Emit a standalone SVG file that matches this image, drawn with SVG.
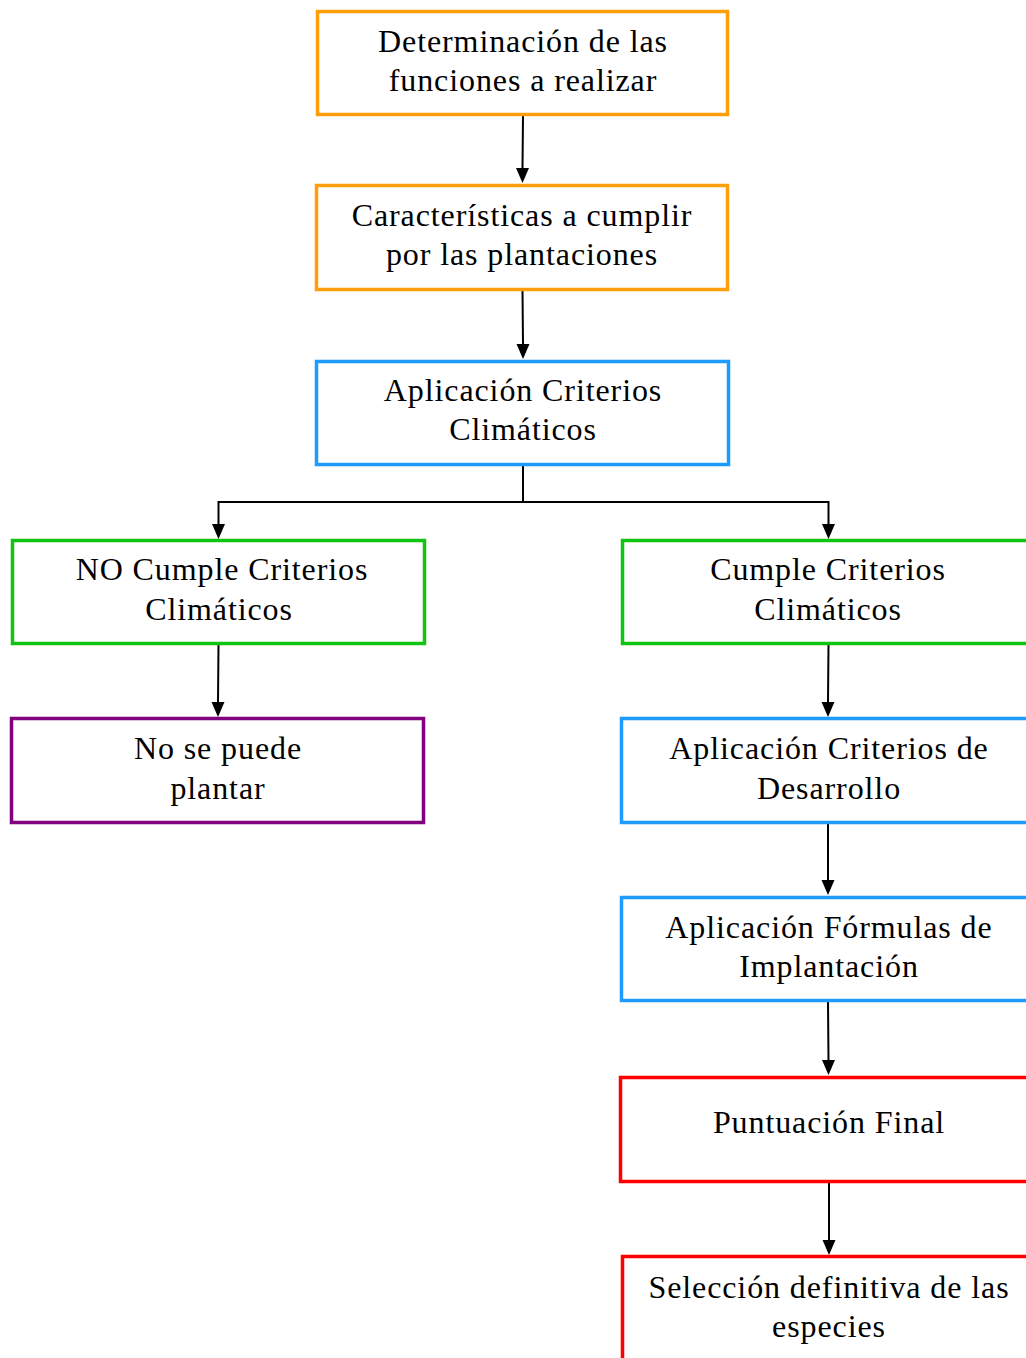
<svg xmlns="http://www.w3.org/2000/svg" width="1026" height="1358" viewBox="0 0 1026 1358">
<defs>
<style>
.box{fill:#fff;stroke-width:3.5}
.or{stroke:#FF9E0B}
.bl{stroke:#1E9BFF}
.gr{stroke:#11C411}
.pu{stroke:#800080}
.rd{stroke:#FF0000}
text{font-family:"Liberation Serif","DejaVu Serif",serif;font-size:32px;letter-spacing:0.9px;fill:#000;text-anchor:middle}
.c{fill:none;stroke:#000;stroke-width:2}
</style>
</defs>
<rect width="1026" height="1358" fill="#fff"/>
<g id="connectors">
<path class="c" d="M523,116 L522.5,168"/>
<path d="M516,168 L529,168 L522.5,183 Z"/>
<path class="c" d="M522.5,291 L523,344"/>
<path d="M516.5,344 L529.5,344 L523,359 Z"/>
<path class="c" d="M523,466 L523,502 L218.5,502 L218.5,524"/>
<path d="M212,524 L225,524 L218.5,539 Z"/>
<path class="c" d="M523,502 L828.5,502 L828.5,524"/>
<path d="M822,524 L835,524 L828.5,539 Z"/>
<path class="c" d="M218.5,645 L218,702"/>
<path d="M211.5,702 L224.5,702 L218,717 Z"/>
<path class="c" d="M828.5,645 L828,702"/>
<path d="M821.5,702 L834.5,702 L828,717 Z"/>
<path class="c" d="M828,824 L828,880"/>
<path d="M821.5,880 L834.5,880 L828,895 Z"/>
<path class="c" d="M828,1002 L828.5,1060"/>
<path d="M822,1060 L835,1060 L828.5,1075 Z"/>
<path class="c" d="M829,1183 L829,1240"/>
<path d="M822.5,1240 L835.5,1240 L829,1255 Z"/>
</g>
<g id="n1"><rect class="box or" x="317.5" y="11.5" width="410" height="103"/><text x="523" y="52">Determinación de las</text><text x="523" y="91">funciones a realizar</text></g>
<g id="n2"><rect class="box or" x="316.5" y="185.5" width="411" height="104"/><text x="522" y="226">Características a cumplir</text><text x="522" y="265">por las plantaciones</text></g>
<g id="n3"><rect class="box bl" x="316.5" y="361.5" width="412" height="103"/><text x="523" y="401">Aplicación Criterios</text><text x="523" y="440">Climáticos</text></g>
<g id="n4"><rect class="box gr" x="12.5" y="540.5" width="412" height="103"/><text x="222" y="580">NO Cumple Criterios</text><text x="219" y="620">Climáticos</text></g>
<g id="n5"><rect class="box gr" x="622.5" y="540.5" width="413" height="103"/><text x="828" y="580">Cumple Criterios</text><text x="828" y="620">Climáticos</text></g>
<g id="n6"><rect class="box pu" x="11.5" y="718.5" width="412" height="104"/><text x="218" y="759">No se puede</text><text x="218" y="799">plantar</text></g>
<g id="n7"><rect class="box bl" x="621.5" y="718.5" width="414" height="104"/><text x="829" y="759">Aplicación Criterios de</text><text x="829" y="799">Desarrollo</text></g>
<g id="n8"><rect class="box bl" x="621.5" y="897.5" width="414" height="103"/><text x="829" y="938">Aplicación Fórmulas de</text><text x="829" y="977">Implantación</text></g>
<g id="n9"><rect class="box rd" x="620.5" y="1077.5" width="415" height="104"/><text x="829" y="1133">Puntuación Final</text></g>
<g id="n10"><rect class="box rd" x="622.5" y="1256.5" width="414" height="110"/><text x="829" y="1298">Selección definitiva de las</text><text x="829" y="1337">especies</text></g>
</svg>
